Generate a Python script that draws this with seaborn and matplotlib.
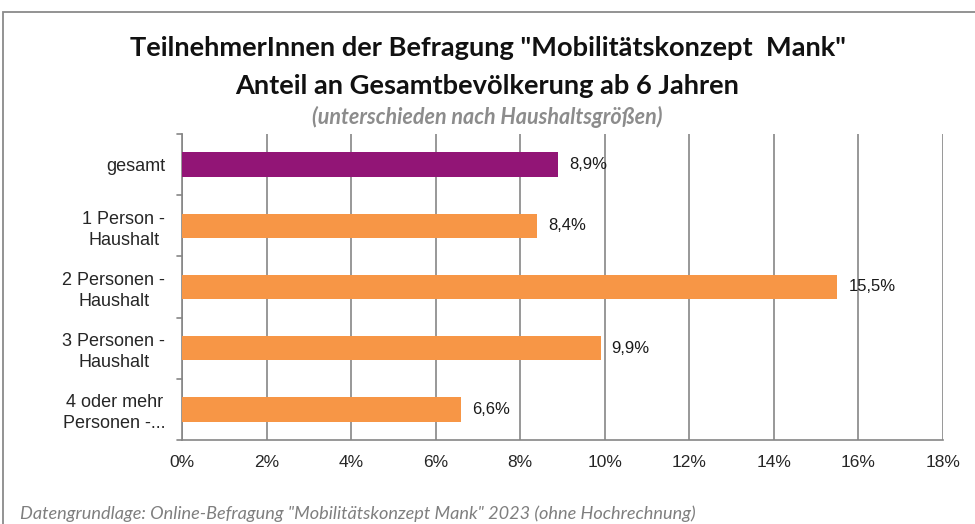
import matplotlib
matplotlib.use("Agg")
import matplotlib.pyplot as plt
import seaborn as sns
import pandas as pd
from matplotlib.patches import Rectangle

# chart values
categories = ["gesamt", "1 Person -\nHaushalt", "2 Personen -\nHaushalt",
              "3 Personen -\nHaushalt", "4 oder mehr\nPersonen -..."]
shares = [8.9, 8.4, 15.5, 9.9, 6.6]
groups = ["gesamt", "hh", "hh", "hh", "hh"]
x_ticks = [0, 2, 4, 6, 8, 10, 12, 14, 16, 18]

df = pd.DataFrame({"cat": categories, "share": shares, "grp": groups})

sns.set_style("white")
plt.rcParams["font.family"] = ["Liberation Sans", "DejaVu Sans"]

fig = plt.figure(figsize=(9.75, 5.24), dpi=100)
ax = fig.add_axes([182 / 975, 1 - 440 / 524, 761 / 975, 306 / 524])

sns.barplot(data=df, x="share", y="cat", hue="grp", orient="h",
            palette={"gesamt": "#921576", "hh": "#F79646"}, saturation=1,
            width=0.4, dodge=False, legend=False, linewidth=0, ax=ax, zorder=3)

for i, v in enumerate(shares):
    ax.annotate(f"{v:.1f}%".replace(".", ","), (v, i), xytext=(8, 0),
                textcoords="offset points", va="center", ha="left",
                fontsize=12, color="#1a1a1a")

ax.set_xlim(0, 18)
ax.set_ylim(len(categories) - 0.5, -0.5)
ax.set_xticks(x_ticks)
ax.set_xticklabels([f"{t}%" for t in x_ticks], fontsize=12.5)
ax.set_yticks(range(len(categories)))
ax.set_yticklabels(categories, fontsize=13, multialignment="center",
                   linespacing=1.3)
ax.tick_params(axis="y", length=0, pad=12)
ax.tick_params(axis="x", length=5, color="#868686", pad=6)
ax.set_xlabel("")
ax.set_ylabel("")
ax.xaxis.grid(True, color="#868686", linewidth=1.2, zorder=0)
ax.set_axisbelow(True)
for s in ["top", "right"]:
    ax.spines[s].set_visible(False)
for s in ["left", "bottom"]:
    ax.spines[s].set_color("#868686")
    ax.spines[s].set_linewidth(1.2)

# category separator ticks on the y axis
for b in [i - 0.5 for i in range(len(categories) + 1)]:
    ax.plot([-0.0065, 0], [b, b], transform=ax.get_yaxis_transform(),
            color="#868686", linewidth=1.2, clip_on=False)

title_font = ["Lato", "DejaVu Sans"]
fig.text(0.5, 1 - 48 / 524, 'TeilnehmerInnen der Befragung "Mobilitätskonzept  Mank"',
         ha="center", va="center", fontsize=19.6, fontweight="bold",
         family=title_font, color="#111111")
fig.text(0.5, 1 - 86 / 524, "Anteil an Gesamtbevölkerung ab 6 Jahren",
         ha="center", va="center", fontsize=19.6, fontweight="bold",
         family=title_font, color="#111111")
fig.text(0.5, 1 - 117 / 524, "(unterschieden nach Haushaltsgrößen)",
         ha="center", va="center", fontsize=15.5, fontweight="bold", style="italic",
         family=title_font, color="#8c8c8c")
fig.text(20 / 975, 1 - 514 / 524,
         'Datengrundlage: Online-Befragung "Mobilitätskonzept Mank" 2023 (ohne Hochrechnung)',
         ha="left", va="center", fontsize=13.1, style="italic",
         family=title_font, color="#7f7f7f")

fig.patches.append(Rectangle((3 / 975, -0.1), 1.2, 1.1 - 12 / 524,
                             transform=fig.transFigure, fill=False,
                             edgecolor="#8a8a8a", linewidth=1.3))

fig.savefig("out.png", dpi=100, facecolor="white")
